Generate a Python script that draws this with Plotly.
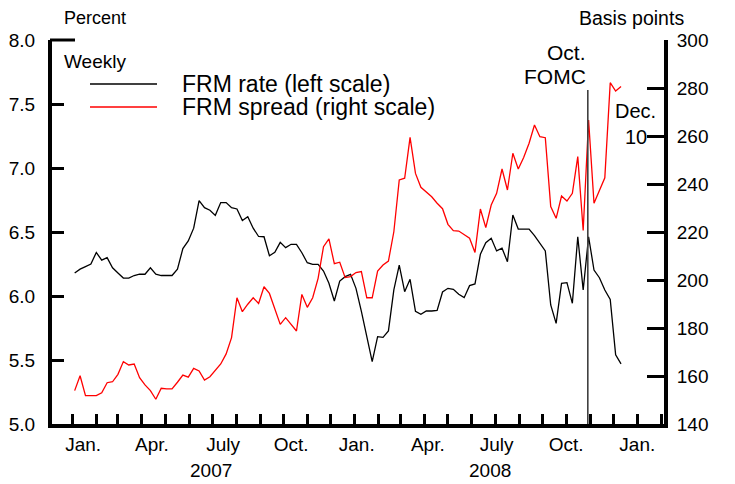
import plotly.graph_objects as go
import pandas as pd

# ---------------- data ----------------
first_week = "2007-01-04"

frm_rate = [
    6.18, 6.21, 6.23, 6.25, 6.34, 6.28, 6.30, 6.22, 6.18, 6.14,
    6.14, 6.16, 6.17, 6.17, 6.22, 6.17, 6.16, 6.16, 6.16, 6.21,
    6.37, 6.43, 6.53, 6.745, 6.69, 6.67, 6.63, 6.73, 6.73, 6.69,
    6.68, 6.59, 6.62, 6.53, 6.465, 6.463, 6.315, 6.341, 6.419, 6.378,
    6.404, 6.404, 6.338, 6.26, 6.247, 6.247, 6.195, 6.099, 5.961, 6.117,
    6.151, 6.169, 6.06, 5.88, 5.682, 5.487, 5.682, 5.677, 5.727, 6.047,
    6.242, 6.034, 6.13, 5.88, 5.857, 5.883, 5.883, 5.887, 6.031, 6.06,
    6.052, 6.013, 5.987, 6.081, 6.094, 6.326, 6.417, 6.451, 6.352, 6.373,
    6.268, 6.633, 6.523, 6.523, 6.523, 6.471, 6.411, 6.352, 5.93, 5.786,
    6.099, 6.104, 5.943, 6.463, 6.047, 6.463, 6.203, 6.143, 6.047, 5.974,
    5.54, 5.47,
]

frm_spread = [
    153.9, 160.1, 151.8, 151.8, 151.8, 153.0, 157.2, 157.6, 160.7, 166.0,
    164.6, 165.0, 159.3, 156.3, 153.9, 150.3, 154.9, 154.6, 154.6, 157.4,
    160.4, 159.5, 163.2, 162.1, 158.3, 159.7, 162.5, 165.0, 169.2, 176.0,
    192.6, 186.8, 189.9, 192.6, 190.2, 197.2, 194.4, 187.9, 181.5, 184.3,
    181.5, 178.75, 194.0, 188.6, 192.6, 200.7, 213.9, 217.1, 206.8, 207.4,
    201.0, 201.4, 203.1, 203.5, 192.6, 192.6, 203.75, 206.25, 207.9, 220.1,
    241.7, 242.4, 259.4, 244.4, 238.6, 236.8, 234.7, 232.0, 229.7, 223.2,
    220.6, 220.4, 219.0, 217.4, 211.5, 229.6, 221.8, 231.25, 236.1, 246.25,
    237.5, 252.8, 246.25, 251.0, 257.0, 264.6, 259.7, 259.3, 230.6, 225.7,
    235.0, 232.9, 236.1, 251.4, 220.6, 266.7, 232.0, 237.1, 242.6, 282.2,
    278.75, 280.6,
]

month_labels = ["Jan.", "Apr.", "July", "Oct.", "Jan.", "Apr.", "July", "Oct.", "Jan."]
month_label_dates = ["2007-01-15", "2007-04-14", "2007-07-15", "2007-10-11",
                     "2008-01-04", "2008-04-05", "2008-07-03", "2008-10-01",
                     "2009-01-01"]
year_labels = ["2007", "2008"]
year_label_dates = ["2007-06-30", "2008-06-24"]

left_ticks = [5.0, 5.5, 6.0, 6.5, 7.0, 7.5, 8.0]
right_ticks = [140, 160, 180, 200, 220, 240, 260, 280, 300]

fomc_date = "2008-10-29"

series_names = ["FRM rate (left scale)", "FRM spread (right scale)"]
series_colors = ["black", "#ff0000"]

# ---------------- figure ----------------
dates = pd.date_range(first_week, periods=len(frm_rate), freq="7D")

W, H = 735, 484
OFF = 8                       # page body margin in the browser
L, R, T, B = 52, 664, 40, 424  # plot area in screenshot pixels
FONT = "Arial, Liberation Sans, Helvetica, sans-serif"


def pxx(p):
    return (p - L) / (R - L)


def pxy(p):
    return (B - p) / (B - T)


fig = go.Figure()
fig.add_trace(go.Scatter(x=dates, y=frm_rate, mode="lines", name=series_names[0],
                         line=dict(color=series_colors[0], width=1.3), yaxis="y"))
fig.add_trace(go.Scatter(x=dates, y=frm_spread, mode="lines", name=series_names[1],
                         line=dict(color=series_colors[1], width=1.3), yaxis="y2"))

shapes = [
    # FOMC vertical line
    dict(type="line", xref="x", yref="paper", x0=fomc_date, x1=fomc_date,
         y0=0, y1=pxy(90), line=dict(color="#404040", width=1.6)),
    # longer top tick on left axis
    dict(type="line", xref="paper", yref="paper", x0=pxx(L - 2), x1=pxx(75),
         y0=1, y1=1, line=dict(color="black", width=3)),
    # legend samples
    dict(type="line", xref="paper", yref="paper", x0=pxx(90), x1=pxx(157),
         y0=pxy(84), y1=pxy(84), line=dict(color=series_colors[0], width=1.3)),
    dict(type="line", xref="paper", yref="paper", x0=pxx(90), x1=pxx(157),
         y0=pxy(107), y1=pxy(107), line=dict(color=series_colors[1], width=1.3)),
]

ann = []


def text(t, x, y, size=19, xanchor="left", xref="paper"):
    ann.append(dict(text=t, x=x, y=pxy(y), xref=xref, yref="paper",
                    xanchor=xanchor, yanchor="middle", showarrow=False,
                    font=dict(family=FONT, size=size, color="black")))


text("Percent", pxx(62), 18, size=18)
text("Basis points", pxx(686), 18, size=19.5, xanchor="right")
text("Weekly", pxx(62), 62)
text(series_names[0], pxx(180), 84, size=23)
text(series_names[1], pxx(180), 107, size=23)
text("Oct.", fomc_date, 52, size=21, xanchor="right", xref="x")
text("FOMC", fomc_date, 77, size=21, xanchor="right", xref="x")
text("Dec.", pxx(635), 111, size=20, xanchor="center")
text("10", pxx(636), 137, size=20, xanchor="center")
for lbl, d in zip(year_labels, year_label_dates):
    text(lbl, d, 470, size=19, xanchor="center", xref="x")

fig.update_layout(
    width=W, height=H, autosize=False,
    margin=dict(l=L - OFF, r=W - (R - OFF), t=T - OFF, b=H - (B - OFF), pad=0),
    paper_bgcolor="white", plot_bgcolor="white",
    showlegend=False,
    font=dict(family=FONT, size=19, color="black"),
    shapes=shapes, annotations=ann,
    xaxis=dict(
        type="date", range=["2006-12-05 16:00", "2009-02-04 14:00"],
        automargin=False,
        showline=True, linewidth=4, linecolor="black", mirror=False,
        showgrid=False, zeroline=False,
        tickmode="array", tickvals=month_label_dates, ticktext=month_labels,
        ticks="", ticklabelstandoff=0,
        tickfont=dict(family=FONT, size=19, color="black"),
        minor=dict(tickmode="linear", tick0="2007-01-01", dtick="M1",
                   ticks="inside", ticklen=10, tickwidth=3, tickcolor="black",
                   showgrid=False),
    ),
    yaxis=dict(
        range=[5, 8], tickmode="array", tickvals=left_ticks,
        ticktext=[f"{v:.1f}" for v in left_ticks], automargin=False,
        ticks="inside", ticklen=12, tickwidth=3, tickcolor="black",
        showline=True, linewidth=4, linecolor="black",
        showgrid=False, zeroline=False, ticklabelstandoff=9,
        tickfont=dict(family=FONT, size=19, color="black"),
    ),
    yaxis2=dict(
        range=[140, 300], overlaying="y", side="right", automargin=False,
        tickmode="array", tickvals=right_ticks,
        ticks="inside", ticklen=17, tickwidth=3, tickcolor="black",
        showline=True, linewidth=4, linecolor="black",
        showgrid=False, zeroline=False, ticklabelstandoff=5,
        tickfont=dict(family=FONT, size=19, color="black"),
    ),
)

fig.write_html("out.html")
